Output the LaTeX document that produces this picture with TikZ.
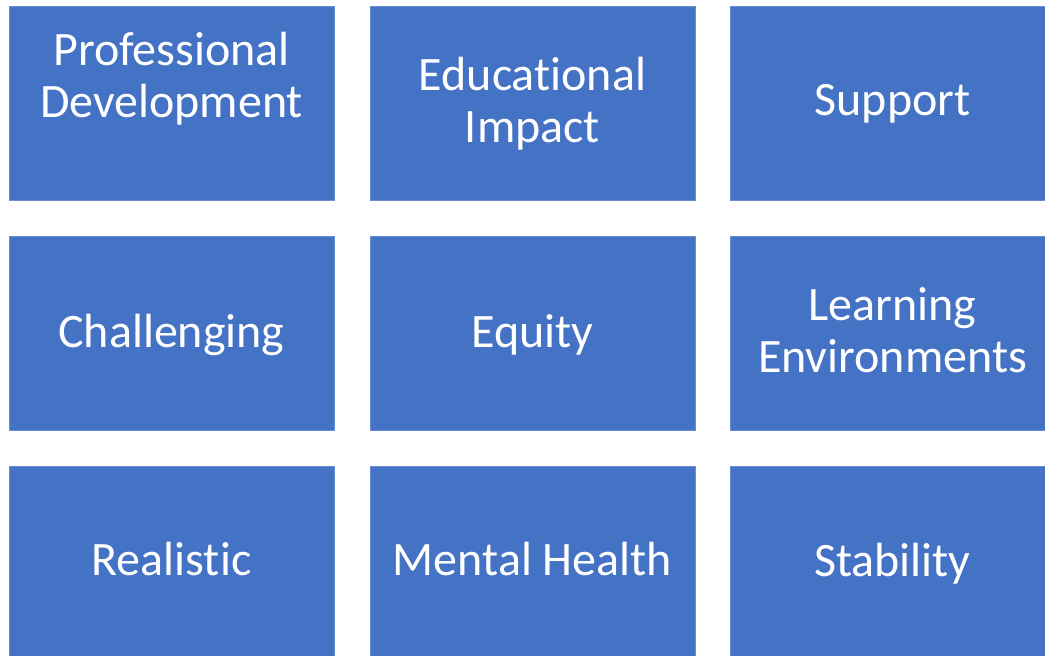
\documentclass[tikz,border=0pt]{standalone}
\usepackage{fontspec}
\setmainfont[Ligatures={NoCommon,NoRare,NoDiscretionary}]{Carlito}
\definecolor{tileblue}{HTML}{4472C4}
\tikzset{
  tile/.style={rectangle, fill=tileblue, draw=tileblue!80!white, line width=0.6pt,
    minimum width=325pt, minimum height=194pt, inner sep=0pt, anchor=north west},
  tiletext/.style={text=white, anchor=base, inner sep=0pt,
    font=\fontsize{48}{52}\selectfont}
}
\newcommand{\twolines}[2]{\begin{tabular}[b]{@{}c@{}}#1\\#2\end{tabular}}
\begin{document}
\begin{tikzpicture}[x=1pt,y=-1pt]
\useasboundingbox (0,0) rectangle (1045,656);
\clip (0,0) rectangle (1045,656);
% tiles
\node[tile] (t11) at (9,6) {};
\node[tile] (t12) at (370,6) {};
\node[tile] (t13) at (730,6) {};
\node[tile] (t21) at (9,236) {};
\node[tile] (t22) at (370,236) {};
\node[tile] (t23) at (730,236) {};
\node[tile] (t31) at (9,466) {};
\node[tile] (t32) at (370,466) {};
\node[tile] (t33) at (730,466) {};
% labels
\node[tiletext] (l11) at (171.5,117) {\twolines{Professional}{Development}};
\node[tiletext] (l12) at (532.5,142) {\twolines{Educational}{Impact}};
\node[tiletext] (l13) at (892.5,115) {Support};
\node[tiletext] (l21) at (171.5,347) {Challenging};
\node[tiletext] (l22) at (532.5,347) {Equity};
\node[tiletext] (l23) at (892.5,372) {\twolines{Learning}{Environments}};
\node[tiletext] (l31) at (171.5,575) {Realistic};
\node[tiletext] (l32) at (532.5,575) {Mental Health};
\node[tiletext] (l33) at (892.5,576) {Stability};
\end{tikzpicture}
\end{document}
